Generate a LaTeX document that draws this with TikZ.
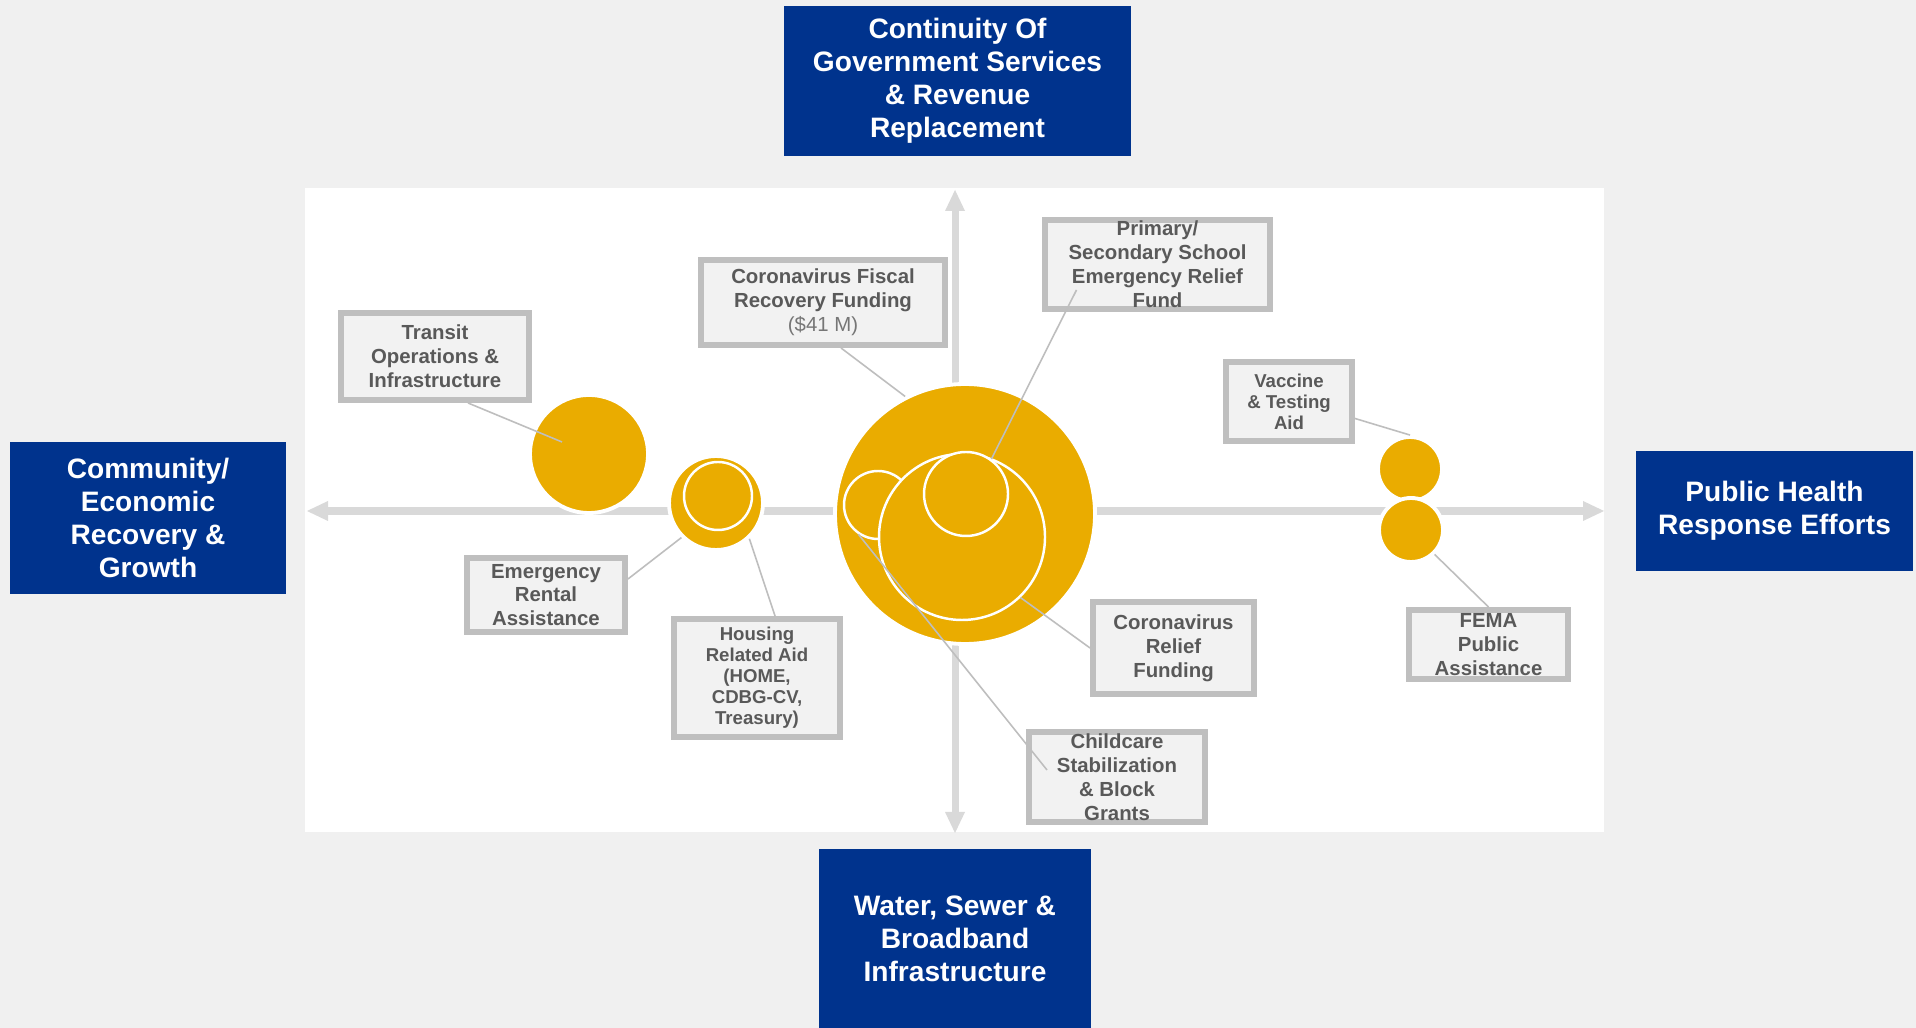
\documentclass[tikz,border=0pt]{standalone}
\usepackage{fontspec}
\setmainfont{Liberation Sans}
\usetikzlibrary{calc}
\definecolor{navy}{RGB}{0,51,141}
\definecolor{gold}{RGB}{234,172,0}
\definecolor{boxgray}{RGB}{191,191,191}
\definecolor{boxfill}{RGB}{242,242,242}
\definecolor{txtgray}{RGB}{89,89,89}
\definecolor{midgray}{RGB}{118,118,118}
\definecolor{linegray}{RGB}{190,190,190}
\definecolor{axisgray}{RGB}{217,217,217}
\definecolor{bggray}{RGB}{240,240,240}

\begin{document}
\begin{tikzpicture}[x=0.1mm, y=0.1mm]
\tikzstyle{every node}+=[inner sep=0pt]
\tikzstyle{head}=[fill=navy, text=white, align=center, font=\fontsize{8}{9.4}\selectfont\bfseries]
\tikzstyle{fund}=[draw=boxgray, line width=1.7pt, fill=boxfill, text=txtgray, align=center, font=\fontsize{5.8}{6.8}\selectfont\bfseries]
\tikzstyle{fundsm}=[fund, font=\fontsize{5.3}{6}\selectfont\bfseries]
\tikzstyle{bub}=[circle, fill=gold, draw=white, line width=1.1pt]
\tikzstyle{sub}=[circle, fill=gold, draw=white, line width=0.7pt]
\tikzstyle{lnk}=[draw=linegray, line width=0.45pt]
\useasboundingbox (0,0) rectangle (1916,-1028);
\fill [bggray] (0,0) rectangle (1916,-1028);
\fill [white] (305,-188) rectangle (1604,-832);
% axes
\draw [axisgray, line width=2pt] (326,-511) -- (1586,-511);
\fill [axisgray] (307,-511) -- (328,-501) -- (328,-521);
\fill [axisgray] (1604,-511) -- (1583,-501) -- (1583,-521);
\draw [axisgray, line width=2pt] (955,-209) -- (955,-814);
\fill [axisgray] (955,-190) -- (945,-211) -- (965,-211);
\fill [axisgray] (955,-833) -- (945,-812) -- (965,-812);
% headings
\node [head, minimum width=34.7mm, minimum height=15mm] (cont) at (957.5,-81) {Continuity Of\\Government Services\\\& Revenue\\Replacement};
\node [head, minimum width=27.6mm, minimum height=15.2mm] (comm) at (148,-518) {Community/\\Economic\\Recovery \&\\Growth};
\node [head, minimum width=27.7mm, minimum height=12mm] (pub) at (1774.5,-511) {Public Health\\Response Efforts};
\node [head, minimum width=27.2mm, minimum height=17.9mm] (wat) at (955,-938.5) {Water, Sewer \&\\Broadband\\Infrastructure};
% bubbles
\node [bub, minimum size=11.8mm] (transC) at (589,-454) {};
\node [bub, minimum size=9.4mm] (rentC) at (716,-503) {};
\node [sub, minimum size=6.8mm] (rentI) at (718,-496) {};
\node [bub, minimum size=26mm] (bigC) at (965,-514) {};
\node [sub, minimum size=6.8mm] (leftI) at (878,-505) {};
\node [sub, minimum size=16.6mm] (midI) at (962,-537) {};
\node [sub, minimum size=8.4mm] (topI) at (966,-494) {};
\node [bub, minimum size=6.4mm] (vaccC) at (1410,-469) {};
\node [bub, minimum size=6.4mm] (femaC) at (1411,-530) {};
% funding boxes
\node [fund, minimum width=18.8mm, minimum height=8.7mm] (trans) at (435,-356.5) {Transit\\Operations \&\\Infrastructure};
\node [fund, minimum width=24.4mm, minimum height=8.5mm] (fisc) at (823,-302.5) {Coronavirus Fiscal\\Recovery Funding\\{\mdseries\color{midgray}(\$41 M)}};
\node [fund, minimum width=22.5mm, minimum height=8.9mm] (prim) at (1157.5,-264.5) {Primary/\\Secondary School\\Emergency Relief\\Fund};
\node [fundsm, minimum width=12.6mm, minimum height=7.9mm] (vacc) at (1289,-401.5) {Vaccine\\\& Testing\\Aid};
\node [fund, minimum width=15.8mm, minimum height=7.4mm] (rent) at (546,-595) {Emergency\\Rental\\Assistance};
\node [fundsm, minimum width=16.6mm, minimum height=11.8mm] (house) at (757,-678) {Housing\\Related Aid\\(HOME,\\CDBG-CV,\\Treasury)};
\node [fund, minimum width=16.1mm, minimum height=9.2mm] (relief) at (1173.5,-648) {Coronavirus\\Relief\\Funding};
\node [fund, minimum width=17.6mm, minimum height=9mm] (child) at (1117,-777) {Childcare\\Stabilization\\\& Block\\Grants};
\node [fund, minimum width=15.9mm, minimum height=6.9mm] (fema) at (1488.5,-644.5) {FEMA\\Public\\Assistance};
% leader lines
\draw [lnk] ($(trans.south)+(33,0)$) -- ($(transC)+(-27,12)$);
\draw [lnk] ($(fisc.south)+(18,0)$) -- (bigC.117);
\draw [lnk] ($(prim.south)+(-81,22)$) -- (topI.54);
\draw [lnk] ($(vacc.east)+(0,-17)$) -- (vaccC.north);
\draw [lnk] (femaC.-46) -- (fema.north);
\draw [lnk] ($(rent.east)+(0,16)$) -- (rentC.-135);
\draw [lnk] (rentC.-47) -- ($(house.north)+(18,0)$);
\draw [lnk] (midI.-46) -- (relief.west);
\draw [lnk] (leftI.-124) -- ($(child.west)+(21,7)$);
\end{tikzpicture}
\end{document}
